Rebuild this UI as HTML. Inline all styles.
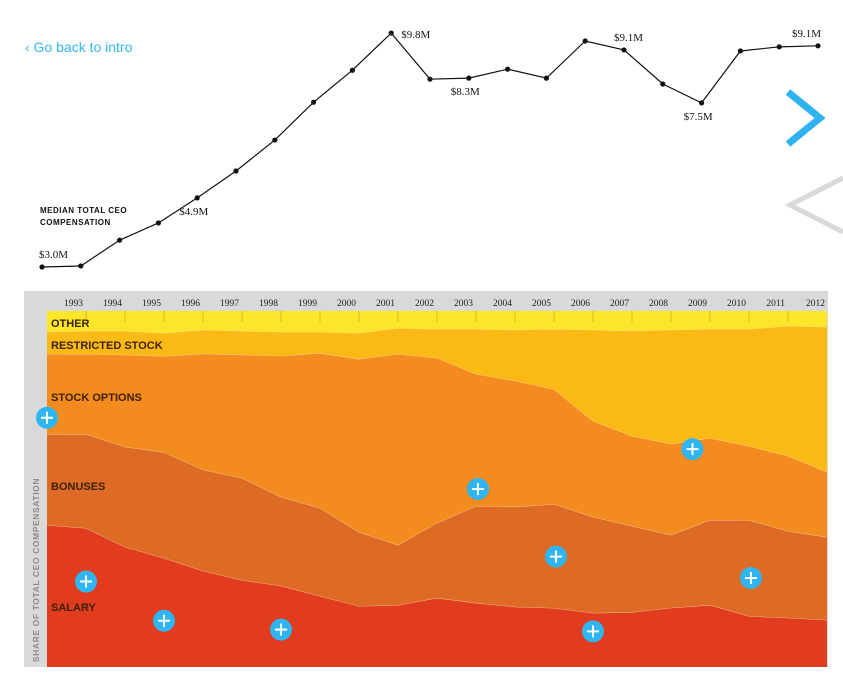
<!DOCTYPE html>
<html><head><meta charset="utf-8"><style>
html,body{margin:0;padding:0;background:#fff;width:843px;height:676px;overflow:hidden;font-family:"Liberation Sans",sans-serif}
svg{display:block}
</style></head><body>
<svg id="c" width="843" height="676" xmlns="http://www.w3.org/2000/svg">
<text x="25" y="52" font-size="14" fill="#35b6ef">‹ Go back to intro</text>
<polyline points="788,92 820,118 788,144" fill="none" stroke="#2fb2f0" stroke-width="7"/>
<polyline points="843,178 790,205 843,232" fill="none" stroke="#d9d9d9" stroke-width="5"/>
<text x="40" y="213" font-size="8" font-weight="bold" fill="#111" letter-spacing="0.5">MEDIAN TOTAL CEO</text>
<text x="40" y="225" font-size="8" font-weight="bold" fill="#111" letter-spacing="0.5">COMPENSATION</text>
<g id="line"></g>
<rect x="24" y="291" width="804" height="376" fill="#d9d9d9"/>
<g id="area"></g>
<g id="ticks"></g>
<g id="labels"></g>
<text transform="translate(39,570) rotate(-90)" text-anchor="middle" font-size="8.5" fill="#8a8a8a" letter-spacing="0.6" font-weight="bold">SHARE OF TOTAL CEO COMPENSATION</text>
<g id="plus"></g>
</svg>
<script>
const years = [1992,1993,1994,1995,1996,1997,1998,1999,2000,2001,2002,2003,2004,2005,2006,2007,2008,2009,2010,2011,2012];
const medianPay = [3.0,3.03,3.78,4.28,5.01,5.79,6.69,7.79,8.72,9.80,8.46,8.49,8.75,8.49,9.57,9.31,8.32,7.77,9.28,9.40,9.43];
const payLabelIdx = [0,4,9,11,15,17,20];
const payLabelText = ["$3.0M","$4.9M","$9.8M","$8.3M","$9.1M","$7.5M","$9.1M"];
const payLabelPos = ["above","below","right","below","above","below","above"];
const salary = [39.9,39.0,33.7,30.6,27.0,24.4,22.8,19.9,17.1,17.4,19.4,18.0,16.9,16.6,15.2,15.4,16.6,17.4,14.3,13.8,13.2];
const bonuses = [25.6,26.4,28.1,29.8,28.4,28.7,25.0,24.7,20.8,16.9,21.1,27.2,28.1,29.2,27.0,24.2,20.5,23.9,27.0,24.4,23.3];
const options = [22.5,22.5,25.8,27.0,32.6,34.6,39.6,43.5,48.6,53.7,46.3,37.1,35.4,32.3,27.0,25.3,25.6,23.0,20.8,21.1,18.3];
const restricted = [6.2,6.5,6.7,6.5,6.7,6.7,6.7,5.9,7.3,7.3,8.1,12.6,14.3,16.9,25.6,29.5,32.0,30.6,32.9,36.5,40.7];
const other = [5.9,5.6,5.6,6.2,5.3,5.6,5.9,5.9,6.2,4.8,5.1,5.1,5.3,5.1,5.3,5.6,5.3,5.1,5.1,4.2,4.5];
const seriesNames = ["salary","bonuses","stock-options","restricted-stock","other"];
const seriesColors = ["#e13b20","#dd6b25","#f48b1f","#fbb916","#fde52a"];
const seriesLabels = ["SALARY","BONUSES","STOCK OPTIONS","RESTRICTED STOCK","OTHER"];
const plusYears = [1992,1993,1995,1998,2003.05,2005.05,2006,2008.55,2010.05];
const plusShare = [70,24,13,10.5,50,31,10,61.2,25];

const NS="http://www.w3.org/2000/svg";
function mk(t,a,p){const e=document.createElementNS(NS,t);for(const k in a)e.setAttribute(k,a[k]);p.appendChild(e);return e;}
const lx=i=>42+i*38.8;
const ly=v=>267-(v-3.0)*34.4;
const lineG=document.getElementById('line');
const pl=mk('polyline',{points:medianPay.map((v,i)=>lx(i)+','+ly(v)).join(' '),fill:'none',stroke:'#111','stroke-width':1.2},lineG);


medianPay.forEach((v,i)=>{const d=mk('circle',{cx:lx(i),cy:ly(v),r:2.6,fill:'#111'},lineG);

});
payLabelIdx.forEach((idx,k)=>{const x=lx(idx),y=ly(medianPay[idx]);let tx=x-3,ty=y-9;
if(payLabelPos[k]==='below'){tx=x-18;ty=y+17;}if(payLabelPos[k]==='right'){tx=x+10;ty=y+5;}
if(payLabelPos[k]==='above'&&idx===20){tx=x-26;ty=y-9;}if(idx===15){tx=x-10;ty=y-9;}
const t=mk('text',{x:tx,y:ty,'font-size':11,fill:'#111','font-family':'"Liberation Serif",serif'},lineG);t.textContent=payLabelText[k];

});
const ax=i=>47+i*39;
const top0=311,bot=667,H=bot-top0;
const ay=s=>bot-s/100*H;
const all=[salary,bonuses,options,restricted,other];
const totals=years.map((_,i)=>all.reduce((a,s)=>a+s[i],0));
const areaG=document.getElementById('area');
let cum=years.map(()=>0);
all.forEach((s,k)=>{const lower=cum.slice();cum=cum.map((c,i)=>c+s[i]/totals[i]*100);
const up=cum.map((c,i)=>ax(i)+','+ay(c));const lo=lower.map((c,i)=>ax(i)+','+ay(c)).reverse();
const p=mk('polygon',{points:up.concat(lo).join(' '),fill:seriesColors[k]},areaG);


if(k<4){const b=mk('polyline',{points:up.join(' '),fill:'none',stroke:'#fbe3b5','stroke-width':0.8,opacity:0.8},areaG);

}});
const tg=document.getElementById('ticks');
years.forEach((y,i)=>{if(i===0)return;const x=ax(i);
if(i<20){const l=mk('line',{x1:x,y1:top0,x2:x,y2:top0+11,stroke:'#d9b81a','stroke-width':1},tg);

}
const t=mk('text',{x:i<20?x-3:x-2,y:306,'text-anchor':'end','font-size':9.5,fill:'#222','font-family':'"Liberation Serif",serif'},tg);t.textContent=y;

});
const lg=document.getElementById('labels');
const labY=[611,490,401,349,327];
seriesLabels.forEach((s,k)=>{const t=mk('text',{x:51,y:labY[k],'font-size':11,'font-weight':'bold',fill:'#3b2208'},lg);t.textContent=s;

});
const pg=document.getElementById('plus');
plusYears.forEach((y,k)=>{const x=ax(y-years[0]),cy=ay(plusShare[k]);
const g=mk('g',{},pg);


mk('circle',{cx:x,cy:cy,r:11,fill:'#2fb6f2'},g);
mk('path',{d:`M${x-6} ${cy}H${x+6}M${x} ${cy-6}V${cy+6}`,stroke:'#fff','stroke-width':2},g);});
</script>
</body></html>
